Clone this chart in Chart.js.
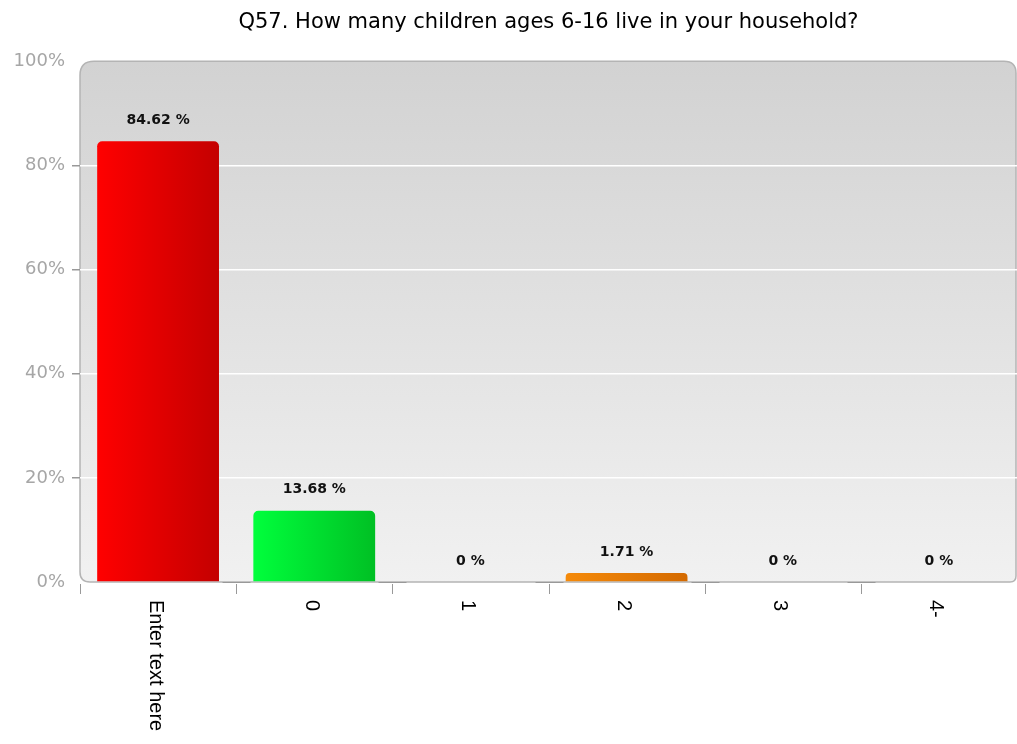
<!DOCTYPE html>
<html>
<head>
<meta charset="utf-8">
<script src="https://cdn.jsdelivr.net/npm/chart.js@4/dist/chart.umd.min.js"></script>
<style>
  html, body { margin: 0; padding: 0; background: #fff; }
  #wrap { width: 1017px; height: 744px; }
</style>
</head>
<body>
<div id="wrap"><canvas id="graph" width="1017" height="744"></canvas></div>
<script>
var categories = ["Enter text here", "0", "1", "2", "3", "4-"];
var percents = [84.62, 13.68, 0, 1.71, 0, 0];
var yTicks = [0, 20, 40, 60, 80, 100];
var titleText = "Q57. How many children ages 6-16 live in your household?";

// left / right shade of each bar
var barShades = [
  ["#ff0000", "#c40000"],
  ["#00ff3c", "#00c024"],
  ["#9a9a9a", "#808080"],
  ["#f58a0a", "#d46a00"],
  ["#9a9a9a", "#808080"],
  ["#9a9a9a", "#808080"]
];

var BAR_PCT = 0.78;

function barFill(c) {
  var chart = c.chart;
  var i = c.dataIndex;
  var xs = chart.scales.x;
  if (!xs || !chart.chartArea) return barShades[i][0];
  var cx = xs.getPixelForValue(i);
  var w = xs.width / categories.length * BAR_PCT;
  var g = chart.ctx.createLinearGradient(cx - w / 2, 0, cx + w / 2, 0);
  g.addColorStop(0, barShades[i][0]);
  g.addColorStop(1, barShades[i][1]);
  return g;
}

// rounded grey panel behind the bars
var panelBg = {
  id: 'panelBg',
  beforeDraw: function(chart) {
    var a = chart.chartArea, ctx = chart.ctx;
    var l = a.left, t = a.top, r = a.right - 1, b = a.bottom;
    ctx.save();
    ctx.beginPath();
    ctx.moveTo(l + 14, t);
    ctx.lineTo(r - 12, t);
    ctx.quadraticCurveTo(r, t, r, t + 12);
    ctx.lineTo(r, b - 6);
    ctx.quadraticCurveTo(r, b, r - 6, b);
    ctx.lineTo(l + 10, b);
    ctx.quadraticCurveTo(l, b, l, b - 10);
    ctx.lineTo(l, t + 14);
    ctx.quadraticCurveTo(l, t, l + 14, t);
    ctx.closePath();
    var g = ctx.createLinearGradient(0, t, 0, b);
    g.addColorStop(0, "#d2d2d2");
    g.addColorStop(1, "#f1f1f1");
    ctx.fillStyle = g;
    ctx.fill();
    ctx.lineWidth = 1.5;
    ctx.strokeStyle = "#b4b4b4";
    ctx.stroke();
    ctx.restore();
  }
};

// category ticks and vertical labels under the axis
var xLabels = {
  id: 'xLabels',
  afterDraw: function(chart) {
    var a = chart.chartArea, ctx = chart.ctx, xs = chart.scales.x;
    var step = xs.width / categories.length;
    ctx.save();
    ctx.strokeStyle = "#999";
    ctx.lineWidth = 1;
    for (var k = 0; k < categories.length; k++) {
      var tx = Math.round(a.left + k * step) + 0.5;
      ctx.beginPath();
      ctx.moveTo(tx, a.bottom + 2);
      ctx.lineTo(tx, a.bottom + 12);
      ctx.stroke();
      if (k > 0) {
        ctx.beginPath();
        ctx.moveTo(tx - 14, a.bottom + 0.5);
        ctx.lineTo(tx + 14, a.bottom + 0.5);
        ctx.stroke();
      }
    }
    ctx.fillStyle = "#000";
    ctx.font = '20px "Liberation Sans"';
    ctx.textAlign = "left";
    ctx.textBaseline = "middle";
    categories.forEach(function(lab, i) {
      ctx.save();
      ctx.translate(xs.getPixelForValue(i) - 3, a.bottom + 18);
      ctx.rotate(Math.PI / 2);
      ctx.fillText(lab, 0, 0);
      ctx.restore();
    });
    ctx.restore();
  }
};

// value text above each bar
var valueLabels = {
  id: 'valueLabels',
  afterDatasetsDraw: function(chart) {
    var ctx = chart.ctx;
    var meta = chart.getDatasetMeta(0);
    ctx.save();
    ctx.fillStyle = "#111";
    ctx.font = 'bold 14px "DejaVu Sans"';
    ctx.textAlign = "center";
    ctx.textBaseline = "middle";
    meta.data.forEach(function(bar, i) {
      ctx.fillText(percents[i] + " %", bar.x, bar.y - 21);
    });
    ctx.restore();
  }
};

var ctx = document.getElementById("graph").getContext('2d');

var myChart = new Chart(ctx, {
  type: 'bar',
  data: {
    labels: categories,
    datasets: [{
      data: percents,
      backgroundColor: barFill,
      borderRadius: { topLeft: 5, topRight: 5, bottomLeft: 0, bottomRight: 0 },
      borderSkipped: 'bottom',
      barPercentage: BAR_PCT,
      categoryPercentage: 1
    }]
  },
  options: {
    responsive: false,
    animation: false,
    layout: { padding: { left: 0, right: 0, top: 0, bottom: 0 } },
    plugins: {
      legend: { display: false },
      tooltip: { enabled: false },
      title: {
        display: true,
        text: titleText,
        fullSize: false,
        color: "#000",
        font: { family: '"DejaVu Sans"', size: 21, weight: 'normal' },
        padding: { top: 10, bottom: 26 }
      }
    },
    scales: {
      x: {
        grid: { display: false },
        border: { display: false },
        ticks: { display: false },
        afterFit: function(s) { s.height = 162; }
      },
      y: {
        min: 0,
        max: 100,
        afterBuildTicks: function(s) {
          s.ticks = yTicks.map(function(v) { return { value: v }; });
        },
        afterFit: function(s) { s.width = 80; },
        border: { display: false },
        grid: {
          color: function(c) {
            return (c.tick && (c.tick.value === 0 || c.tick.value === 100)) ? "rgba(0,0,0,0)" : "#ffffff";
          },
          tickColor: function(c) {
            return (c.tick && (c.tick.value === 0 || c.tick.value === 100)) ? "rgba(0,0,0,0)" : "#999";
          },
          lineWidth: 1.5,
          tickLength: 8
        },
        ticks: {
          color: "#a6a6a6",
          padding: 7,
          font: { family: '"DejaVu Sans"', size: 18 },
          callback: function(v) { return v + "%"; }
        }
      }
    }
  },
  plugins: [panelBg, valueLabels, xLabels]
});
</script>
</body>
</html>
